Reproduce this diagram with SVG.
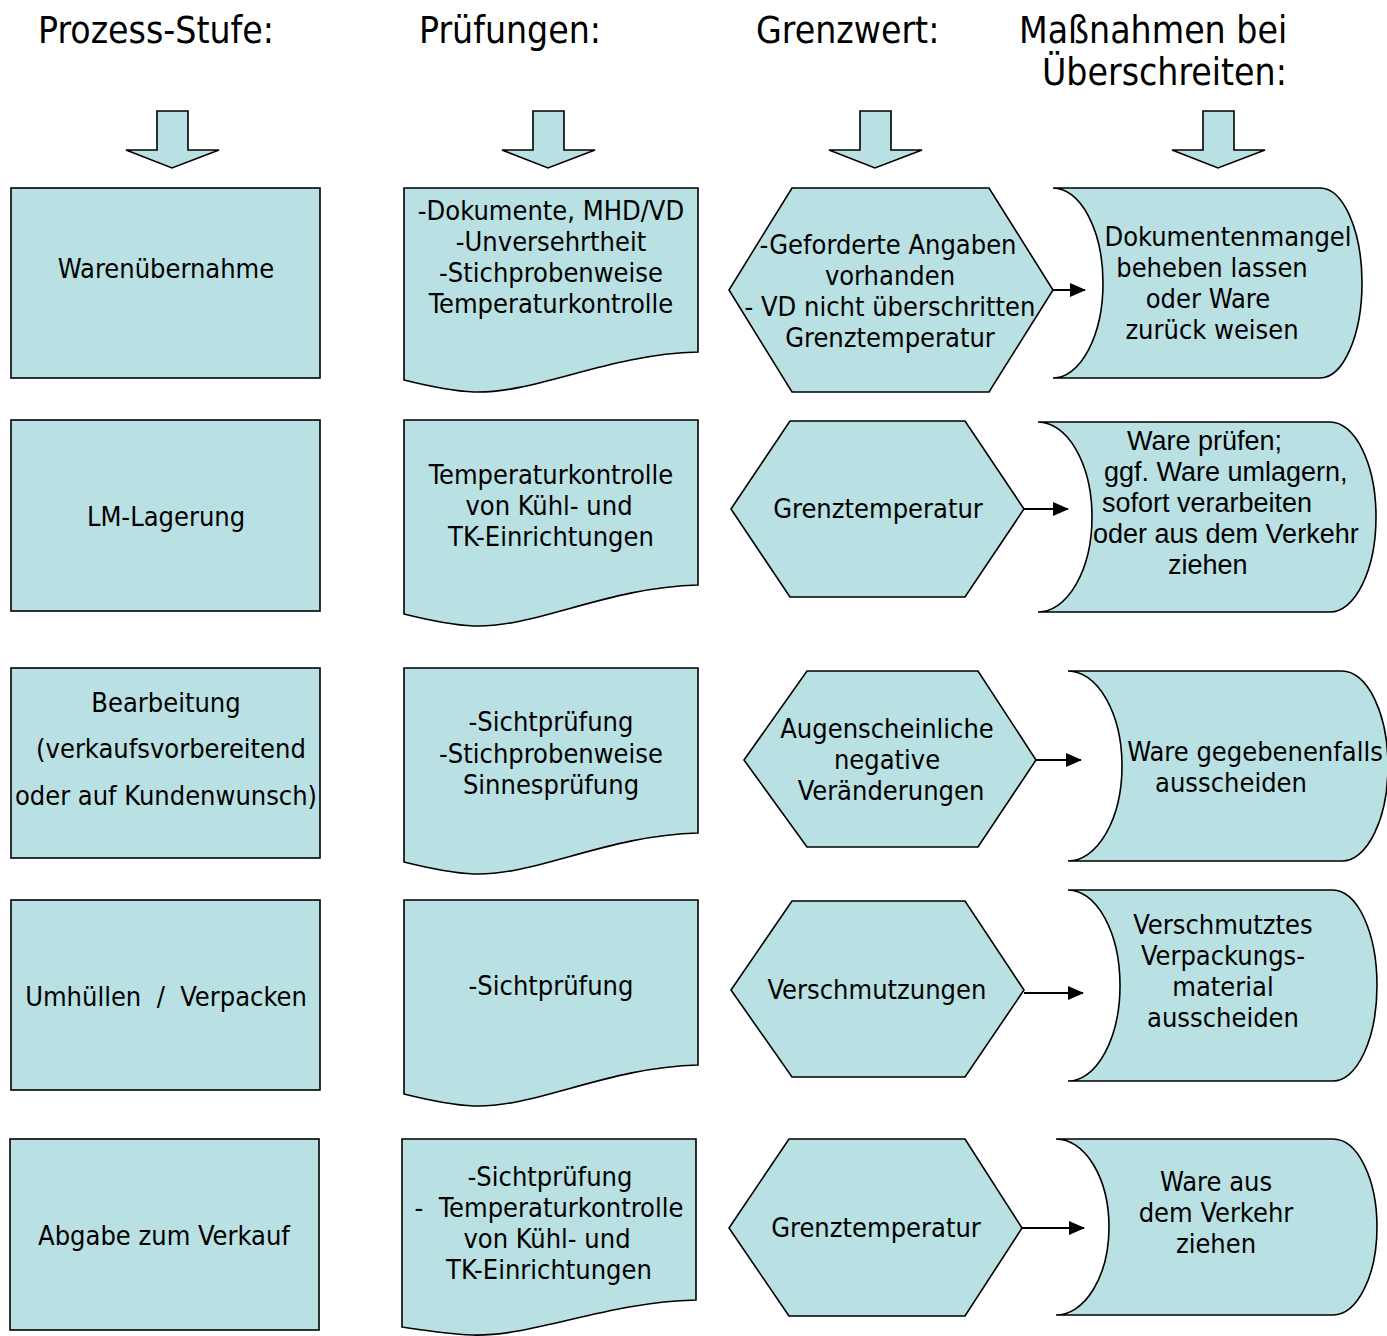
<svg xmlns="http://www.w3.org/2000/svg" width="1387" height="1336" viewBox="0 0 1387 1336">
<style>
.s{fill:#B9E0E3;stroke:#000;stroke-width:1.6;stroke-linejoin:miter}
.t{font-family:'DejaVu Sans Condensed','DejaVu Sans',sans-serif;font-stretch:condensed;font-size:27px;fill:#000;text-anchor:middle}
.a{font-family:'Liberation Sans',Arial,sans-serif;font-size:27px;fill:#000;text-anchor:start}
.h{font-family:'DejaVu Sans Condensed','DejaVu Sans',sans-serif;font-stretch:condensed;font-size:37px;fill:#000}
.c{stroke:#000;stroke-width:2;fill:none;marker-end:url(#ah)}
</style>
<defs>
<marker id="ah" markerWidth="16" markerHeight="14" refX="15" refY="7" orient="auto" markerUnits="userSpaceOnUse">
<path d="M0,0 L16,7 L0,14 Z" fill="#000"/>
</marker>
</defs>

<g id="header">
<text class="h" x="38" y="43">Prozess-Stufe:</text>
<text class="h" x="419" y="43">Prüfungen:</text>
<text class="h" x="756" y="43">Grenzwert:</text>
<text class="h" x="1019" y="43">Maßnahmen bei</text>
<text class="h" x="1042" y="85">Überschreiten:</text>
</g>

<g id="header-arrows">
<path class="s" d="M157,111 H188 V150 H219 L172,168 L126,150 H157 Z"/>
<path class="s" d="M533,111 H564 V150 H595 L548,168 L502,150 H533 Z"/>
<path class="s" d="M860,111 H891 V150 H922 L875,168 L829,150 H860 Z"/>
<path class="s" d="M1203,111 H1234 V150 H1265 L1218,168 L1172,150 H1203 Z"/>
</g>

<!-- Row 1 -->
<g id="p1"><rect class="s" x="11" y="188" width="309" height="190"/>
<text class="t" x="166" y="278">Warenübernahme</text></g>
<g id="c1"><path class="s" d="M404,188 H698 V352 C608,354 535,394 474,392 C449,391 424,385 404,380 Z"/>
<text class="t" x="551" y="220">-Dokumente, MHD/VD</text>
<text class="t" x="551" y="251">-Unversehrtheit</text>
<text class="t" x="551" y="282">-Stichprobenweise</text>
<text class="t" x="551" y="313">Temperaturkontrolle</text></g>
<g id="g1"><path class="s" d="M729,290 L792,188 H989 L1053,290 L989,392 H792 Z"/>
<text class="t" x="888" y="254">-Geforderte Angaben</text>
<text class="t" x="890" y="285">vorhanden</text>
<text class="t" x="890" y="316">- VD nicht überschritten</text>
<text class="t" x="890" y="347">Grenztemperatur</text></g>
<g id="m1"><path class="s" d="M1053,188 H1320 A42,95 0 0 1 1320,378 H1053 A50,95 0 0 0 1053,188 Z"/>
<text class="t" x="1228" y="246">Dokumentenmangel</text>
<text class="t" x="1212" y="277">beheben lassen</text>
<text class="t" x="1208" y="308">oder Ware</text>
<text class="t" x="1212" y="339">zurück weisen</text></g>

<!-- Row 2 -->
<g id="p2"><rect class="s" x="11" y="420" width="309" height="191"/>
<text class="t" x="166" y="526">LM-Lagerung</text></g>
<g id="c2"><path class="s" d="M404,420 H698 V585 C608,587 535,628 474,626 C449,625 424,619 404,614 Z"/>
<text class="t" x="551" y="484">Temperaturkontrolle</text>
<text class="t" x="549" y="515">von Kühl- und</text>
<text class="t" x="551" y="546">TK-Einrichtungen</text></g>
<g id="g2"><path class="s" d="M731,509 L790,421 H965 L1024,509 L965,597 H790 Z"/>
<text class="t" x="878" y="518">Grenztemperatur</text></g>
<g id="m2"><path class="s" d="M1038,422 H1330 A46,95 0 0 1 1330,612 H1038 A54,95 0 0 0 1038,422 Z"/>
<text class="a" x="1127" y="450">Ware prüfen;</text>
<text class="a" x="1104" y="481">ggf. Ware umlagern,</text>
<text class="a" x="1102" y="512">sofort verarbeiten</text>
<text class="a" x="1093" y="543">oder aus dem Verkehr</text>
<text class="a" x="1168" y="574">ziehen</text></g>

<!-- Row 3 -->
<g id="p3"><rect class="s" x="11" y="668" width="309" height="190"/>
<text class="t" x="166" y="712">Bearbeitung</text>
<text class="t" x="171" y="758">(verkaufsvorbereitend</text>
<text class="t" x="166" y="805">oder auf Kundenwunsch)</text></g>
<g id="c3"><path class="s" d="M404,668 H698 V833 C608,835 535,876 474,874 C449,873 424,867 404,862 Z"/>
<text class="t" x="551" y="731">-Sichtprüfung</text>
<text class="t" x="551" y="763">-Stichprobenweise</text>
<text class="t" x="551" y="794">Sinnesprüfung</text></g>
<g id="g3"><path class="s" d="M744,760 L807,671 H978 L1036,760 L978,847 H807 Z"/>
<text class="t" x="887" y="738">Augenscheinliche</text>
<text class="t" x="887" y="769">negative</text>
<text class="t" x="891" y="800">Veränderungen</text></g>
<g id="m3"><path class="s" d="M1068,671 H1342 A46,95 0 0 1 1342,861 H1068 A54,95 0 0 0 1068,671 Z"/>
<text class="t" x="1255" y="761">Ware gegebenenfalls</text>
<text class="t" x="1231" y="792">ausscheiden</text></g>

<!-- Row 4 -->
<g id="p4"><rect class="s" x="11" y="900" width="309" height="190"/>
<text class="t" x="166" y="1006" xml:space="preserve">Umhüllen  /  Verpacken</text></g>
<g id="c4"><path class="s" d="M404,900 H698 V1065 C608,1067 535,1108 474,1106 C449,1105 424,1099 404,1094 Z"/>
<text class="t" x="551" y="995">-Sichtprüfung</text></g>
<g id="g4"><path class="s" d="M731,990 L792,901 H965 L1024,990 L965,1077 H792 Z"/>
<text class="t" x="877" y="999">Verschmutzungen</text></g>
<g id="m4"><path class="s" d="M1068,890 H1333 A44,95.5 0 0 1 1333,1081 H1068 A52,95.5 0 0 0 1068,890 Z"/>
<text class="t" x="1223" y="934">Verschmutztes</text>
<text class="t" x="1223" y="965">Verpackungs-</text>
<text class="t" x="1223" y="996">material</text>
<text class="t" x="1223" y="1027">ausscheiden</text></g>

<!-- Row 5 -->
<g id="p5"><rect class="s" x="10" y="1139" width="309" height="191"/>
<text class="t" x="164" y="1245">Abgabe zum Verkauf</text></g>
<g id="c5"><path class="s" d="M402,1139 H696 V1300 C606,1302 533,1337 472,1335 C447,1334 422,1330 402,1327 Z"/>
<text class="t" x="550" y="1186">-Sichtprüfung</text>
<text class="t" x="549" y="1217" xml:space="preserve">-  Temperaturkontrolle</text>
<text class="t" x="547" y="1248">von Kühl- und</text>
<text class="t" x="549" y="1279">TK-Einrichtungen</text></g>
<g id="g5"><path class="s" d="M729,1228 L789,1139 H965 L1022,1228 L965,1316 H789 Z"/>
<text class="t" x="876" y="1237">Grenztemperatur</text></g>
<g id="m5"><path class="s" d="M1056,1139 H1333 A44,88 0 0 1 1333,1315 H1056 A53,88 0 0 0 1056,1139 Z"/>
<text class="t" x="1216" y="1191">Ware aus</text>
<text class="t" x="1216" y="1222">dem Verkehr</text>
<text class="t" x="1216" y="1253">ziehen</text></g>

<g id="connectors">
<line class="c" x1="1053" y1="290" x2="1085" y2="290"/>
<line class="c" x1="1024" y1="509" x2="1068" y2="509"/>
<line class="c" x1="1036" y1="760" x2="1081" y2="760"/>
<line class="c" x1="1024" y1="993" x2="1083" y2="993"/>
<line class="c" x1="1022" y1="1228" x2="1084" y2="1228"/>
</g>
</svg>
